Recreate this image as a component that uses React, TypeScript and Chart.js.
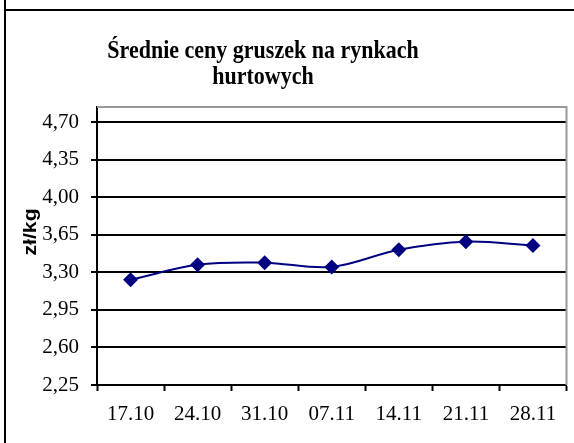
import React, { useEffect, useRef } from "react";
import { Chart, registerables } from "chart.js";

Chart.register(...registerables);

const categories = ["17.10", "24.10", "31.10", "07.11", "14.11", "21.11", "28.11"];
const prices = [3.23, 3.37, 3.39, 3.35, 3.51, 3.585, 3.55];
const yTicks = [2.25, 2.6, 2.95, 3.3, 3.65, 4.0, 4.35, 4.7];
const titleLines = ["Średnie ceny gruszek na rynkach", "hurtowych"];
const yAxisLabel = "zł/kg";

const W = 574;
const H = 443;

const decorPlugin = {
  id: "decor",
  beforeDraw(chart: any) {
    const { ctx } = chart;
    ctx.save();
    ctx.fillStyle = "#ffffff";
    ctx.fillRect(0, 0, W, H);
    ctx.restore();
  },
  afterDraw(chart: any) {
    const { ctx, chartArea } = chart;
    ctx.save();
    // outer frame
    ctx.strokeStyle = "#000";
    ctx.lineWidth = 2;
    ctx.beginPath();
    ctx.moveTo(5, 0);
    ctx.lineTo(5, H);
    ctx.moveTo(5, 10);
    ctx.lineTo(W, 10);
    ctx.stroke();
    // plot area gray border (top & right)
    ctx.strokeStyle = "#999";
    ctx.lineWidth = 2;
    ctx.beginPath();
    ctx.moveTo(chartArea.left, chartArea.top);
    ctx.lineTo(chartArea.right, chartArea.top);
    ctx.lineTo(chartArea.right, chartArea.bottom);
    ctx.stroke();
    ctx.restore();
    // title (slightly stretched vertically, like the original)
    ctx.save();
    ctx.fillStyle = "#000";
    ctx.font = "bold 22px 'Liberation Serif', serif";
    ctx.textAlign = "center";
    ctx.textBaseline = "alphabetic";
    ctx.translate(263, 58);
    ctx.scale(1, 1.12);
    ctx.fillText(titleLines[0], 0, 0);
    ctx.restore();
    ctx.save();
    ctx.fillStyle = "#000";
    ctx.font = "bold 22px 'Liberation Serif', serif";
    ctx.textAlign = "center";
    ctx.textBaseline = "alphabetic";
    ctx.translate(263, 84);
    ctx.scale(1, 1.12);
    ctx.fillText(titleLines[1], 0, 0);
    ctx.restore();
    // y axis label
    ctx.save();
    ctx.fillStyle = "#000";
    ctx.font = "bold 18px 'Liberation Sans', sans-serif";
    ctx.textAlign = "center";
    ctx.textBaseline = "middle";
    ctx.translate(31.5, 232);
    ctx.rotate(-Math.PI / 2);
    ctx.scale(1.18, 1);
    ctx.fillText(yAxisLabel, 0, 0);
    ctx.restore();
  },
};

export default function App() {
  const ref = useRef<HTMLCanvasElement>(null);
  useEffect(() => {
    if (!ref.current) return;
    const chart = new Chart(ref.current, {
      type: "line",
      data: {
        labels: categories,
        datasets: [
          {
            data: prices,
            borderColor: "#000080",
            backgroundColor: "#000080",
            borderWidth: 2,
            tension: 0.35,
            pointStyle: "rectRot",
            pointRadius: 7.5,
            pointBackgroundColor: "#000080",
            pointBorderColor: "#000080",
            pointBorderWidth: 0,
            fill: false,
          },
        ],
      },
      options: {
        responsive: false,
        animation: false,
        events: [],
        layout: { padding: { left: 0, right: 5, top: 107, bottom: 0 } },
        plugins: {
          legend: { display: false },
          tooltip: { enabled: false },
          title: { display: false },
        },
        scales: {
          x: {
            type: "category",
            offset: true,
            grid: {
              display: true,
              offset: true,
              drawOnChartArea: false,
              drawTicks: true,
              tickLength: 6,
              tickWidth: 2,
              tickColor: "#000",
            },
            border: { display: true, color: "#000", width: 2 },
            ticks: {
              color: "#000",
              font: { family: "'Liberation Serif', serif", size: 21 },
              padding: 11,
              maxRotation: 0,
              autoSkip: false,
            },
            afterFit(scale: any) {
              scale.height = 58;
            },
          },
          y: {
            type: "linear",
            min: 2.25,
            max: 4.84,
            afterBuildTicks(scale: any) {
              scale.ticks = yTicks.map((v) => ({ value: v }));
            },
            grid: {
              color: "#000",
              lineWidth: 2,
              drawTicks: true,
              tickLength: 6,
              tickColor: "#000",
            },
            border: { display: true, color: "#000", width: 2 },
            ticks: {
              color: "#000",
              font: { family: "'Liberation Serif', serif", size: 21 },
              padding: 12,
              callback: (v: any) => Number(v).toFixed(2).replace(".", ","),
            },
            afterFit(scale: any) {
              scale.width = 97;
            },
          },
        },
      },
      plugins: [decorPlugin],
    });
    return () => chart.destroy();
  }, []);
  return (
    <div style={{ position: "absolute", left: 0, top: 0, width: W, height: H }}>
      <canvas ref={ref} width={W} height={H} style={{ display: "block" }} />
    </div>
  );
}
